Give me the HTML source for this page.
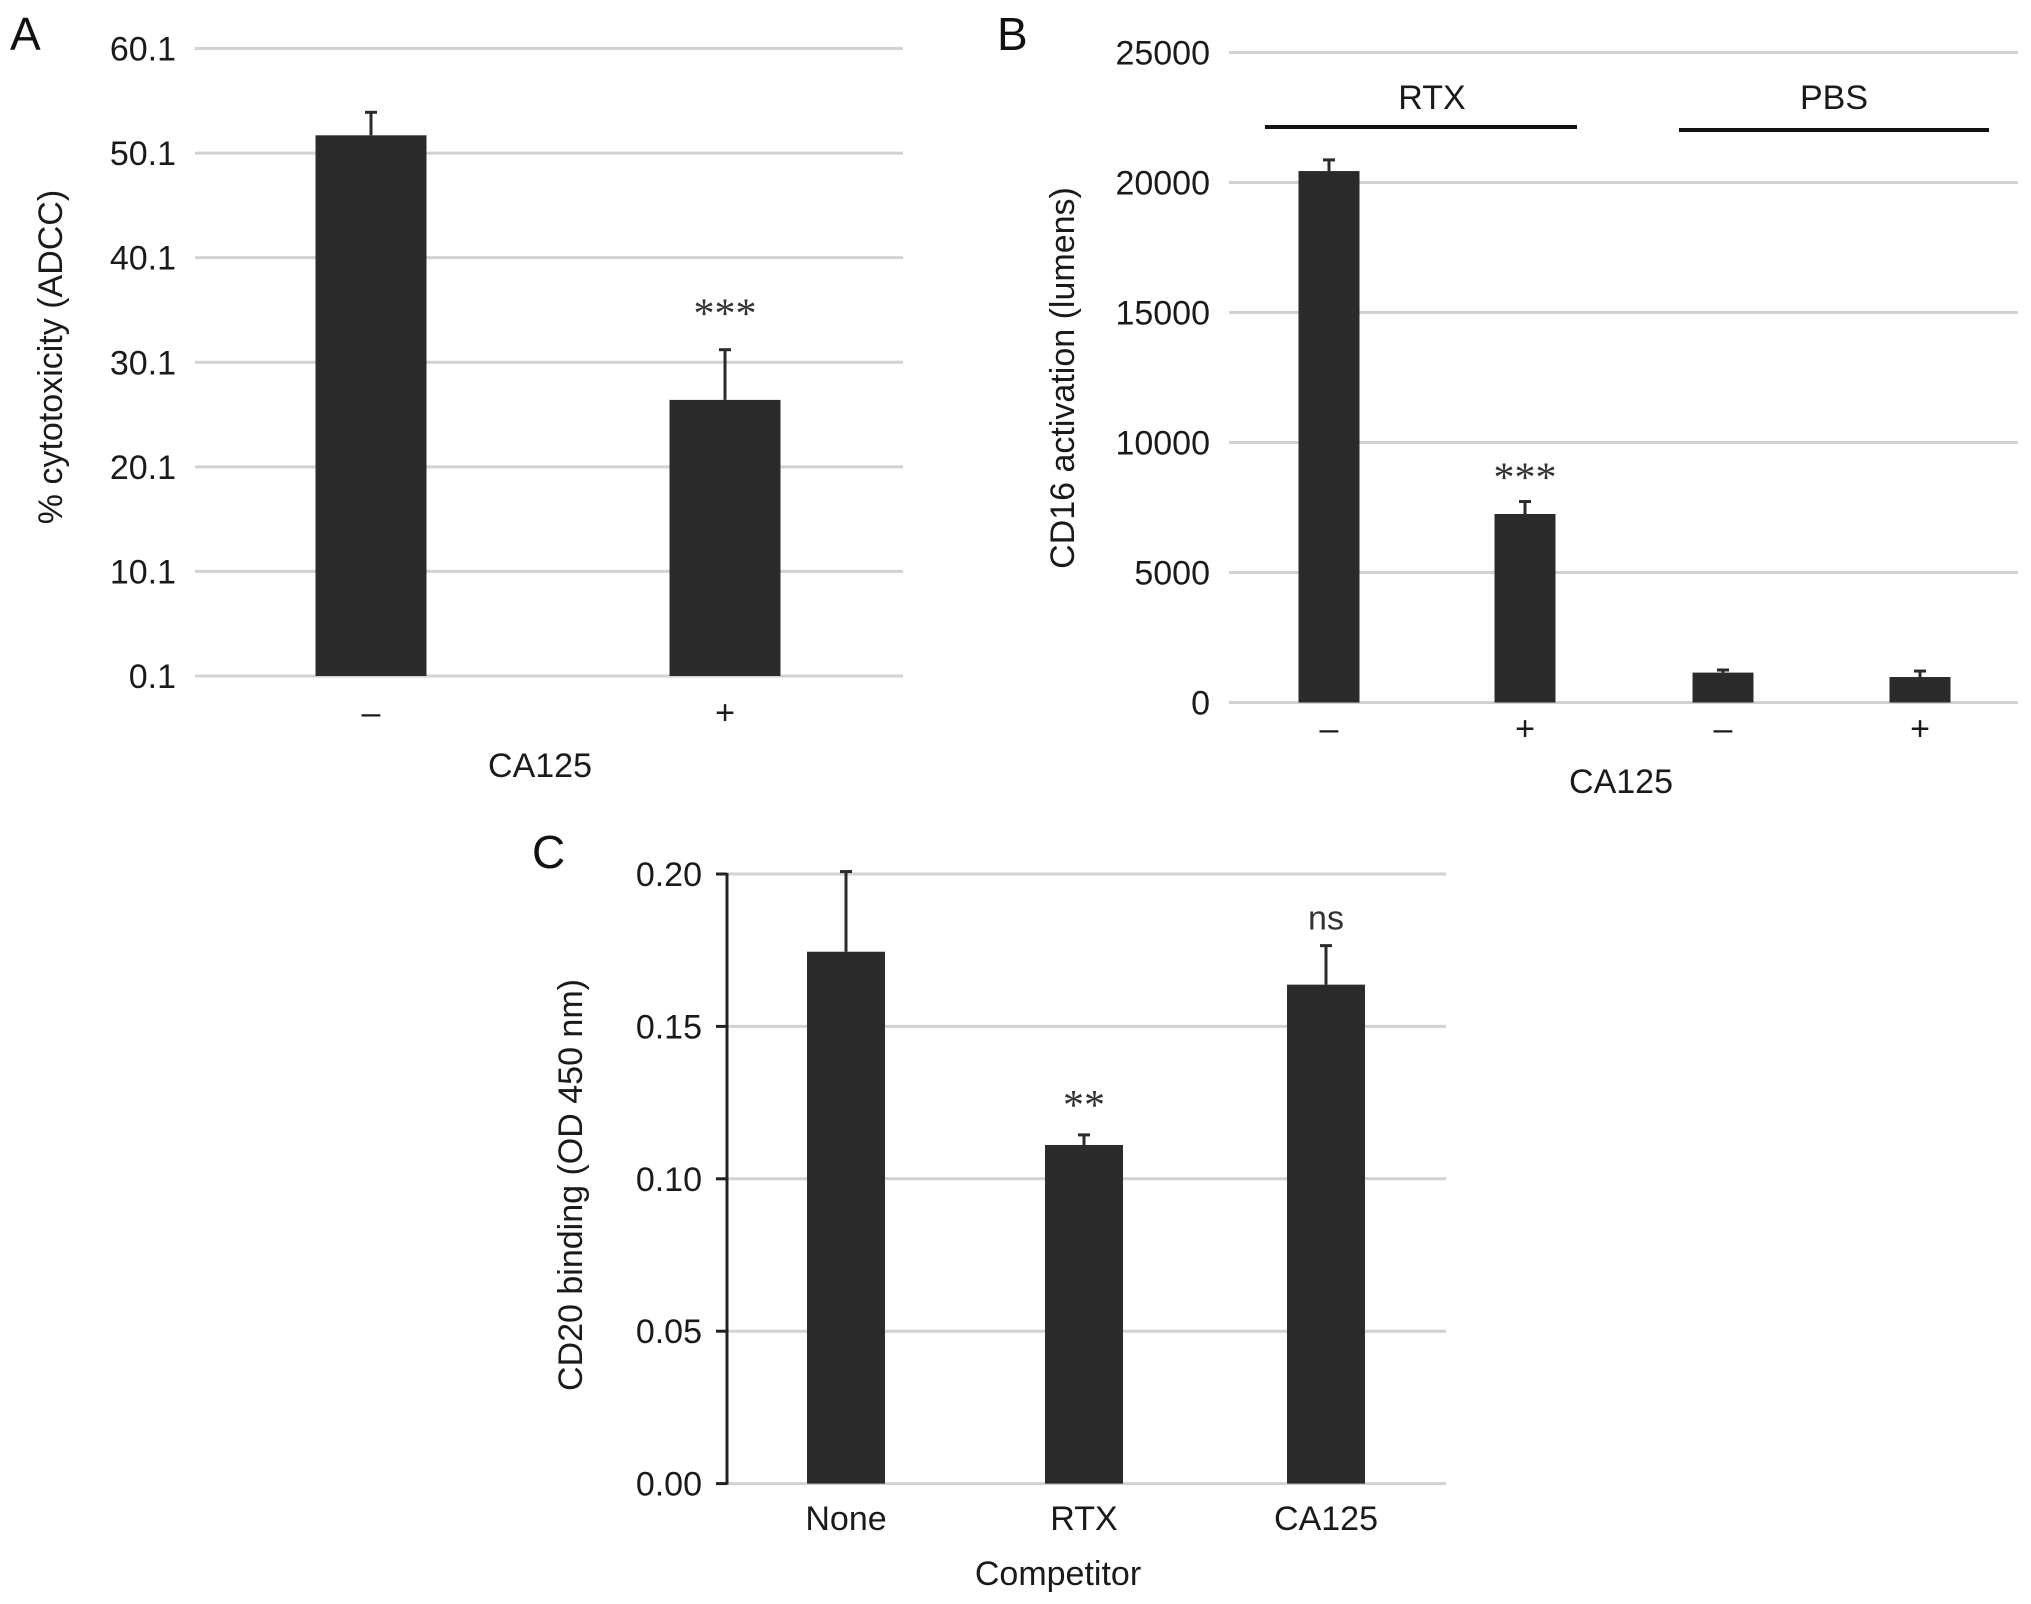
<!DOCTYPE html>
<html><head><meta charset="utf-8"><style>
html,body{margin:0;padding:0;background:#fff;}
svg{display:block;font-family:"Liberation Sans",Arial,sans-serif;}
</style></head><body>
<svg id="fig" width="2031" height="1604" viewBox="0 0 2031 1604" xmlns="http://www.w3.org/2000/svg">
<rect width="2031" height="1604" fill="#fff"/>
<g id="pa"></g>
<g id="pb"></g>
<g id="pc"></g>
</svg>
<script>
// Panel A data
const aCategories = ["–", "+"];
const aValues = [51.8, 26.5];
const aErrors = [2.2, 4.8];
const aTicks = [0.1, 10.1, 20.1, 30.1, 40.1, 50.1, 60.1];
const aTickLabels = ["0.1", "10.1", "20.1", "30.1", "40.1", "50.1", "60.1"];
const aStars = ["", "***"];
// Panel B data
const bCategories = ["–", "+", "–", "+"];
const bValues = [20440, 7250, 1150, 980];
const bErrors = [430, 480, 100, 230];
const bTicks = [0, 5000, 10000, 15000, 20000, 25000];
const bTickLabels = ["0", "5000", "10000", "15000", "20000", "25000"];
const bStars = ["", "***", "", ""];
// Panel C data
const cCategories = ["None", "RTX", "CA125"];
const cValues = [0.1745, 0.1111, 0.1637];
const cErrors = [0.0263, 0.0033, 0.0128];
const cTicks = [0, 0.05, 0.10, 0.15, 0.20];
const cTickLabels = ["0.00", "0.05", "0.10", "0.15", "0.20"];
const cStars = ["", "**", "ns"];

const NS = "http://www.w3.org/2000/svg";
function mk(parent, tag, attrs, text){
  const e = document.createElementNS(NS, tag);
  for (const k in attrs) e.setAttribute(k, attrs[k]);
  if (text !== undefined) e.textContent = text;
  parent.appendChild(e);
  return e;
}
function panel(g, cfg){
  const y = v => cfg.y0 - (v - cfg.vmin) / (cfg.vmax - cfg.vmin) * (cfg.y0 - cfg.y1);
  cfg.ticks.forEach((t, i) => {
    const gl = mk(g, "line", {x1: cfg.gx0, x2: cfg.gx1, y1: y(t), y2: y(t), stroke: "#d2d2d2", "stroke-width": 3});
    
    
    const tl = mk(g, "text", {x: cfg.labelRight, y: y(t) + 12, "text-anchor": "end", "font-size": 34, fill: "#1a1a1a"}, cfg.tickLabels[i]);
    
    
    if (cfg.axis) {
      const tk = mk(g, "line", {x1: cfg.axis - 11, x2: cfg.axis, y1: y(t), y2: y(t), stroke: "#222", "stroke-width": 3});
      
      
    }
  });
  if (cfg.axis) {
    const ax = mk(g, "line", {x1: cfg.axis, x2: cfg.axis, y1: y(cfg.vmax) - 1, y2: y(cfg.vmin) + 1, stroke: "#222", "stroke-width": 3});
    
    
  }
  cfg.values.forEach((v, i) => {
    const cx = cfg.cx[i], w = cfg.bw;
    const top = y(v), et = y(v + cfg.errors[i]);
    const eb = mk(g, "line", {x1: cx, x2: cx, y1: et, y2: top, stroke: "#2b2b2b", "stroke-width": 3});
    
    
    const ec = mk(g, "line", {x1: cx - 6, x2: cx + 6, y1: et, y2: et, stroke: "#2b2b2b", "stroke-width": 3});
    
    
    const r = mk(g, "rect", {x: cx - w / 2, y: top, width: w, height: y(cfg.vmin) - top, fill: "#2b2b2b"});
    
    
    const xl = mk(g, "text", {x: cx, y: cfg.xLabelY, "text-anchor": "middle", "font-size": 34, fill: "#1a1a1a"}, cfg.cats[i]);
    
    
    if (cfg.stars[i]) {
      const isNs = cfg.stars[i] === "ns";
      const s = mk(g, "text", {x: cx, y: et - cfg.starGap, "text-anchor": "middle", "font-size": isNs ? 34 : 42, fill: "#333", "font-family": isNs ? "Liberation Sans, sans-serif" : "Liberation Serif, serif"}, cfg.stars[i]);
      
      
    }
  });
}
const pa = document.getElementById("pa"), pb = document.getElementById("pb"), pc = document.getElementById("pc");
panel(pa, {vmin: 0.1, vmax: 60.1, y0: 676, y1: 48.5, gx0: 195, gx1: 903, labelRight: 176,
  ticks: aTicks, tickLabels: aTickLabels, values: aValues, errors: aErrors, cats: aCategories,
  cx: [371, 725], bw: 111, xLabelY: 724, stars: aStars, starGap: 22});
panel(pb, {vmin: 0, vmax: 25000, y0: 702.5, y1: 52.5, gx0: 1229, gx1: 2018, labelRight: 1210,
  ticks: bTicks, tickLabels: bTickLabels, values: bValues, errors: bErrors, cats: bCategories,
  cx: [1329, 1525, 1723, 1920], bw: 61, xLabelY: 740, stars: bStars, starGap: 10});
panel(pc, {vmin: 0, vmax: 0.20, y0: 1483.6, y1: 874, gx0: 727, gx1: 1446, labelRight: 702, axis: 727,
  ticks: cTicks, tickLabels: cTickLabels, values: cValues, errors: cErrors, cats: cCategories,
  cx: [846, 1084, 1326], bw: 78, xLabelY: 1530, stars: cStars, starGap: 16});
</script>
<svg style="position:absolute;left:0;top:0" width="2031" height="1604" xmlns="http://www.w3.org/2000/svg" font-family="Liberation Sans, Arial, sans-serif">
  <text x="10" y="50" font-size="46" fill="#111">A</text>
  <text transform="translate(62,357) rotate(-90)" text-anchor="middle" font-size="34" fill="#1a1a1a">% cytotoxicity (ADCC)</text>
  <text x="540" y="777" text-anchor="middle" font-size="34" fill="#1a1a1a">CA125</text>

  <text x="997" y="50" font-size="46" fill="#111">B</text>
  <text transform="translate(1074,378) rotate(-90)" text-anchor="middle" font-size="34" fill="#1a1a1a">CD16 activation (lumens)</text>
  <text x="1621" y="793" text-anchor="middle" font-size="34" fill="#1a1a1a">CA125</text>
  <text x="1432" y="109" text-anchor="middle" font-size="34" fill="#1a1a1a">RTX</text>
  <line x1="1265" x2="1577" y1="127" y2="127" stroke="#111" stroke-width="4"/>
  <text x="1834" y="109" text-anchor="middle" font-size="34" fill="#1a1a1a">PBS</text>
  <line x1="1679" x2="1989" y1="130" y2="130" stroke="#111" stroke-width="4"/>

  <text x="532" y="868" font-size="46" fill="#111">C</text>
  <text transform="translate(582,1185) rotate(-90)" text-anchor="middle" font-size="34" fill="#1a1a1a">CD20 binding (OD 450 nm)</text>
  <text x="1058" y="1585" text-anchor="middle" font-size="34" fill="#1a1a1a">Competitor</text>
</svg>
</body></html>
